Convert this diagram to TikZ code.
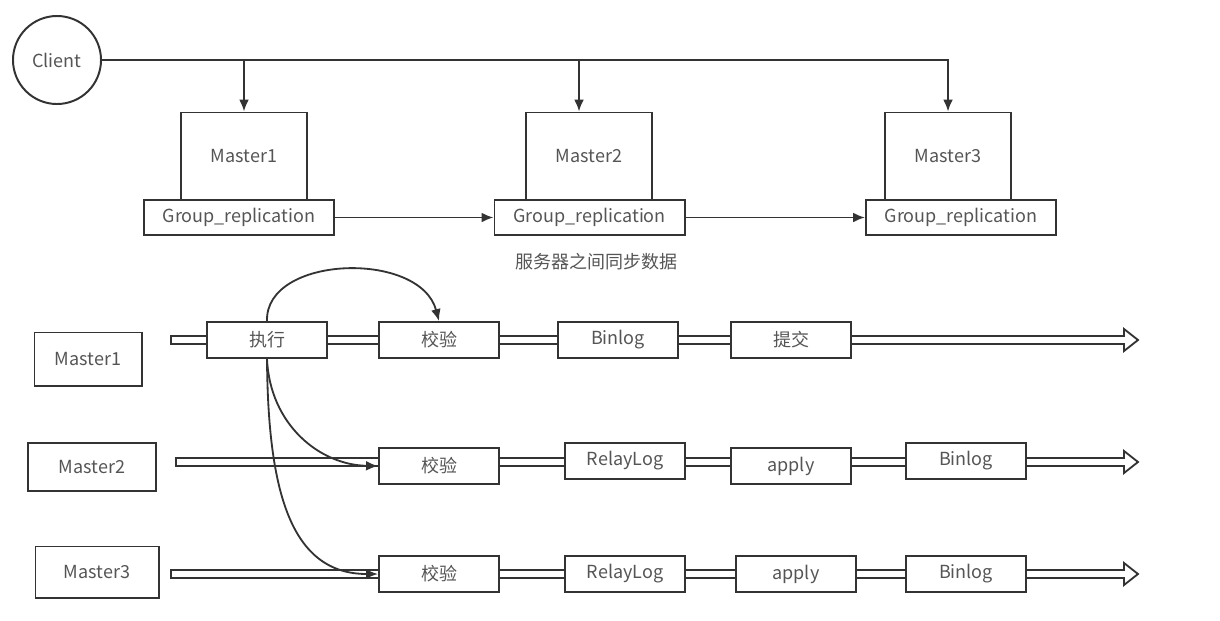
\documentclass[tikz,border=0pt]{standalone}
\usepackage{fontspec}
\setmainfont{Noto Sans CJK SC}
\usepackage{tikz}
\usetikzlibrary{positioning, arrows.meta, backgrounds, calc}
\definecolor{inkgray}{HTML}{333333}
\definecolor{txtgray}{HTML}{555555}

\begin{document}
\begin{tikzpicture}[
        x=0.025cm, y=-0.025cm,
        >={Latex[length=8.5pt,width=7pt]},
        every node/.style={font=\fontsize{12.8}{15}\selectfont, text=txtgray},
        host/.style={draw=inkgray, line width=1.4pt, minimum width=3.15cm, minimum height=2.175cm},
        grbox/.style={draw=inkgray, line width=1.4pt, fill=white, minimum width=4.75cm, minimum height=0.875cm},
        client/.style={circle, draw=inkgray, line width=1.4pt, minimum size=2.2cm, inner sep=0pt},
        hostlabel/.style={draw=inkgray, line width=1.4pt, minimum width=2.9cm, minimum height=1.25cm},
        stepbox/.style={draw=inkgray, line width=1.4pt, fill=white, minimum width=3cm, minimum height=0.9cm},
        link/.style={draw=inkgray, line width=1.3pt, ->},
        track/.style={draw=inkgray, line width=1.3pt, fill=white, line join=miter}
      ]
        \useasboundingbox (0,0) rectangle (1220,620);

        % Client and the three masters
        \node[client] (client) at (57,60) {Client};
        \node[host] (m1) at (244,156) {Master1};
        \node[host] (m2) at (589,156) {Master2};
        \node[host] (m3) at (948,156) {Master3};
        \node[grbox] (gr1) at (239,217.5) {Group\_replication};
        \node[grbox] (gr2) at (589.5,217.5) {Group\_replication};
        \node[grbox] (gr3) at (961,217.5) {Group\_replication};
        \node (sync) at (596,262) {服务器之间同步数据};

        % Client writes to every master
        \coordinate (m2in) at ($(m2.north)+(-10,0)$);
        \draw[link] (client.east) -| (m3.north);
        \draw[link] (client.east -| m1.north) -- (m1.north);
        \draw[link] (client.east -| m2in) -- (m2in);

        % Replication between the masters
        \draw[link] (gr1) -- (gr2);
        \draw[link] (gr2) -- (gr3);

        % Left labels of the timelines
        \node[hostlabel, minimum width=2.675cm, minimum height=1.325cm] (l1) at (88,359) {Master1};
        \node[hostlabel, minimum width=3.2cm, minimum height=1.2cm] (l2) at (92,467) {Master2};
        \node[hostlabel, minimum width=3.075cm, minimum height=1.275cm] (l3) at (97,572) {Master3};

        % Master1 timeline
        \node[stepbox] (exec) at (267,340) {执行};
        \node[stepbox] (chk1) at (439,340) {校验};
        \node[stepbox] (bin1) at (618,340) {Binlog};
        \node[stepbox] (commit) at (791,340) {提交};

        % Master2 timeline
        \node[stepbox] (chk2) at (439,466) {校验};
        \node[stepbox] (relay2) at (625,461) {RelayLog};
        \node[stepbox] (apply2) at (791,466) {apply};
        \node[stepbox] (bin2) at (966,461) {Binlog};

        % Master3 timeline
        \node[stepbox] (chk3) at (439,574) {校验};
        \node[stepbox] (relay3) at (625,574) {RelayLog};
        \node[stepbox] (apply3) at (796,574) {apply};
        \node[stepbox] (bin3) at (966,574) {Binlog};

        \coordinate (t1s) at (171,340);
        \coordinate (t1e) at (1138,340);
        \coordinate (t2s) at (176,462);
        \coordinate (t2e) at (1138,462);
        \coordinate (t3s) at (171,574);
        \coordinate (t3e) at (1138,574);

        % hollow block arrows behind the steps
        \begin{scope}[on background layer]
          \foreach \t in {1,2,3}
            \draw[track] (t\t s) ++(0,-4) -- ($(t\t e)+(-14,-4)$) -- ++(0,-7) -- (t\t e)
              -- ++(-14,11) -- ++(0,-7) -- ($(t\t s)+(0,4)$) -- cycle;
        \end{scope}

        % Transaction is certified on every master
        \draw[link] (exec.north) .. controls (265,255) and (420,250) .. (chk1.north);
        \draw[link] (exec.south) .. controls (270,425) and (320,465) .. (chk2.west);
        \draw[link] (exec.south) .. controls (268,490) and (290,574) .. (chk3.west);
\end{tikzpicture}
\end{document}
